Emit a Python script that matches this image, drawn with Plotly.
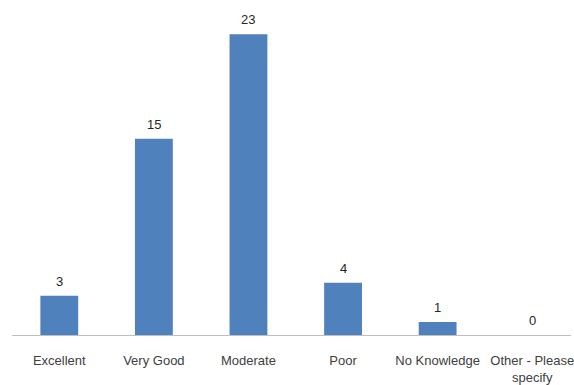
import plotly.graph_objects as go

categories = ["Excellent", "Very Good", "Moderate", "Poor", "No Knowledge", "Other - Please<br>specify"]
counts = [3, 15, 23, 4, 1, 0]

fig = go.Figure(
    go.Bar(
        x=categories,
        y=counts,
        marker=dict(color="#4f81bd", line=dict(width=0)),
        cliponaxis=False,
    )
)

# value labels sitting a little above each bar
for cat, val in zip(categories, counts):
    fig.add_annotation(
        x=cat,
        y=val,
        text=str(val),
        showarrow=False,
        yanchor="bottom",
        yshift=5,
        font=dict(family="Liberation Sans, Arial, sans-serif", size=13, color="#262626"),
    )

fig.update_layout(
    width=574,
    height=385,
    margin=dict(l=12, r=0, t=8, b=48),
    paper_bgcolor="white",
    plot_bgcolor="white",
    bargap=0.6,
    showlegend=False,
    font=dict(family="Liberation Sans, Arial, sans-serif", size=13, color="#404040"),
    xaxis=dict(
        range=[-0.5, 5.41],
        showline=True,
        linecolor="#bfbfbf",
        linewidth=1,
        showgrid=False,
        ticks="",
        tickangle=0,
        tickfont=dict(size=13, color="#404040"),
        ticklabelstandoff=13,
    ),
    yaxis=dict(
        range=[0, 25],
        visible=False,
        showgrid=False,
        zeroline=False,
    ),
)

fig.write_html("out.html")
